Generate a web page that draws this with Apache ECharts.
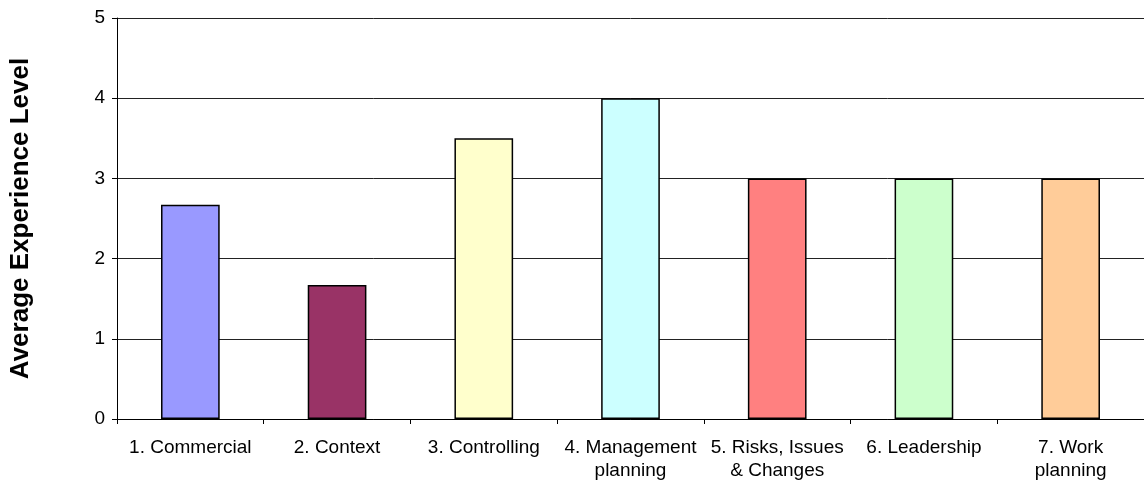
<!DOCTYPE html>
<html>
<head>
<meta charset="utf-8">
<script src="https://cdn.jsdelivr.net/npm/echarts@6/dist/echarts.min.js"></script>
<style>
  html, body { margin: 0; padding: 0; background: #fff; }
  #chart { width: 1144px; height: 484px; }
</style>
</head>
<body>
<div id="chart"></div>
<script>
const categories = [
  '1. Commercial', '2. Context', '3. Controlling', '4. Management\nplanning',
  '5. Risks, Issues\n& Changes', '6. Leadership', '7. Work\nplanning'
]
const values = [2.67, 1.67, 3.5, 4, 3, 3, 3]
const barColors = ['#9999FF', '#993366', '#FFFFCC', '#CCFFFF', '#FF8080', '#CCFFCC', '#FFCC99']
const yTicks = [0, 1, 2, 3, 4, 5]

const font = 'Liberation Sans, Arial, sans-serif'
const chart = echarts.init(document.getElementById('chart'))

chart.setOption({
  animation: false,
  grid: { left: 117, right: -6, top: 18, bottom: 65, containLabel: false },
  xAxis: {
    type: 'category',
    data: categories,
    axisLine: { lineStyle: { color: '#000', width: 1 } },
    axisTick: { show: true, length: 5, lineStyle: { color: '#000' } },
    axisLabel: { color: '#000', fontFamily: font, fontSize: 19, lineHeight: 23, margin: 17, interval: 0 }
  },
  yAxis: {
    type: 'value',
    min: yTicks[0],
    max: yTicks[yTicks.length - 1],
    interval: 1,
    name: 'Average Experience Level',
    nameLocation: 'middle',
    nameGap: 83,
    nameRotate: 90,
    nameTextStyle: { color: '#000', fontFamily: font, fontSize: 26, fontWeight: 'bold' },
    axisLine: { show: true, lineStyle: { color: '#000', width: 1 } },
    axisTick: { show: true, length: 5, lineStyle: { color: '#000' } },
    axisLabel: { color: '#000', fontFamily: font, fontSize: 19, margin: 12 },
    splitLine: { show: true, lineStyle: { color: '#222', width: 1 } }
  },
  series: [{
    type: 'bar',
    barWidth: '40%',
    data: values.map((v, i) => ({
      value: v,
      itemStyle: { color: barColors[i], borderColor: '#000', borderWidth: 1.5 }
    }))
  }]
})
</script>
</body>
</html>
